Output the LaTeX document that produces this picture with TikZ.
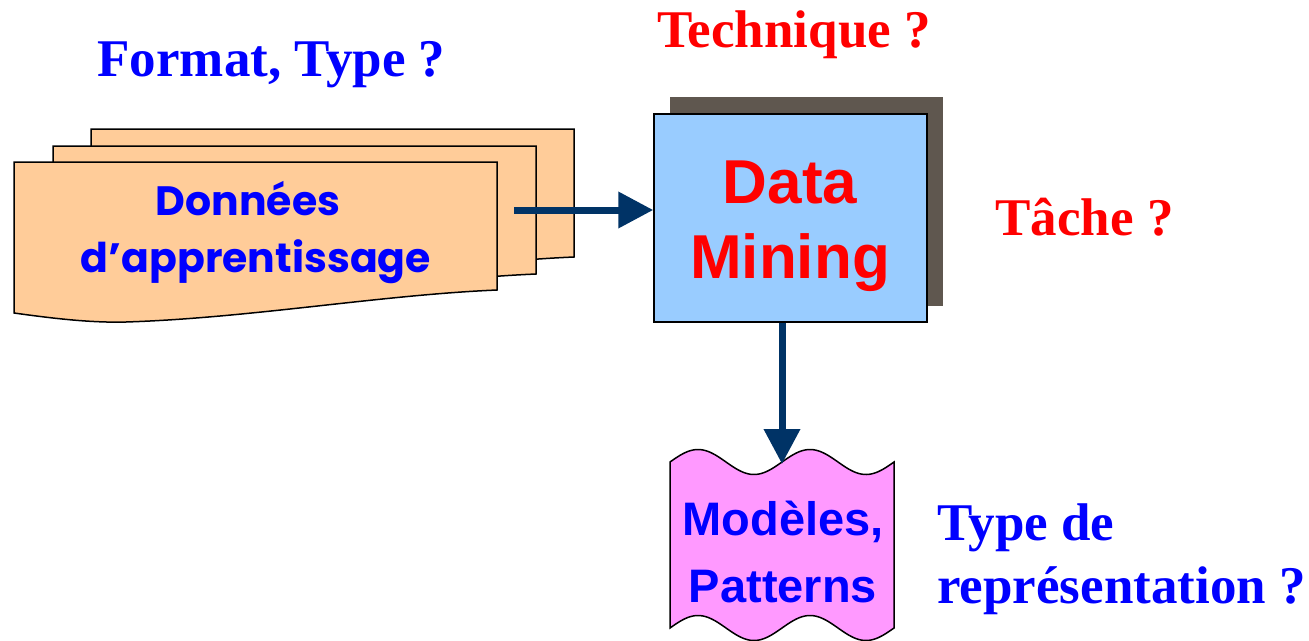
\documentclass[tikz,border=0pt]{standalone}
\usepackage{fontspec}
\setmainfont{Liberation Serif}
\newfontfamily\arialfont{Liberation Sans}
\newfontfamily\comicfont{Poppins}
\usetikzlibrary{arrows.meta}
\definecolor{peach}{HTML}{FFCC99}
\definecolor{skyfill}{HTML}{99CCFF}
\definecolor{shadowgrey}{HTML}{5F574F}
\definecolor{tapepink}{HTML}{FF99FF}
\definecolor{navy}{HTML}{003366}
\definecolor{qblue}{HTML}{0000FF}
\definecolor{qred}{HTML}{FF0000}
\tikzset{
  docsheet/.style={draw=black, line width=1.5pt, fill=peach, line join=miter},
  flow/.style={draw=navy, line width=7pt, -{Triangle[length=35pt,width=35pt]}},
  question/.style={font=\bfseries\fontsize{53}{60}\selectfont, inner sep=0pt, anchor=base},
  doctext/.style={font=\comicfont\bfseries\fontsize{41}{46}\selectfont, text=qblue, inner sep=0pt, anchor=base},
  boxtext/.style={font=\arialfont\bfseries\fontsize{62}{75}\selectfont, text=qred, inner sep=0pt, anchor=base},
  tapetext/.style={font=\arialfont\bfseries\fontsize{47}{67}\selectfont, text=qblue, inner sep=0pt, anchor=base},
}
\begin{document}
\begin{tikzpicture}[x=1pt,y=-1pt]
\useasboundingbox (0,0) rectangle (1309,640);

% stack of three data sheets, back to front
\foreach \dx/\dy in {77/-33, 39/-16, 0/0}{
  \draw[docsheet, shift={(\dx,\dy)}]
    (14,162) -- (497,162) -- (497,290)
    .. controls (380,295) and (250,318) .. (126,322)
    .. controls (90,323) and (50,318) .. (14,313) -- cycle;
}
\node[doctext] (donnees) at (248,215) {Données};
\node[doctext] (apprent) at (256,272) {d’apprentissage};

% data mining block with its drop shadow
\fill[shadowgrey] (670,97) rectangle (943,306);
\node[draw=black, line width=1.5pt, fill=skyfill, minimum width=273pt,
      minimum height=208pt, inner sep=0pt] (dm) at (790.5,218) {};
\node[boxtext] (dmdata) at (790,203) {Data};
\node[boxtext] (dmmining) at (790,278) {Mining};

% punched-tape shape for the resulting models (wave period 112)
\draw[line width=1.5pt, fill=tapepink]
  plot[domain=0:224, samples=90] ({670+\x},{462-12.5*sin(3.2142857*\x)})
  -- plot[domain=224:0, samples=90] ({670+\x},{628-12.5*sin(3.2142857*\x)})
  -- cycle;
\coordinate (tapein) at (782,464);
\node[tapetext] (modeles) at (783,535) {Modèles,};
\node[tapetext] (patterns) at (783,602) {Patterns};

% connectors
\coordinate (feed) at (514,210);
\draw[flow] (feed) -- (feed -| dm.west);
\draw[flow] (tapein |- dm.south) -- (tapein);

% questions around the process
\node[question, text=qblue] (fmt) at (271.5,76) {Format, Type ?};
\node[question, text=qred] (tech) at (794,47) {Technique ?};
\node[question, text=qred] (task) at (1084.5,235) {Tâche ?};
\node[question, text=qblue, anchor=base west] (repr1) at (937,540) {Type de};
\node[question, text=qblue, anchor=base west] (repr2) at (937,603) {représentation ?};
\end{tikzpicture}
\end{document}
